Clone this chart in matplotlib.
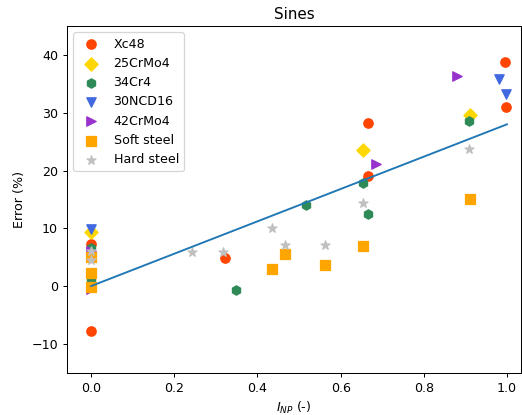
import matplotlib
matplotlib.use('Agg')
import matplotlib.pyplot as plt

# values (x = I_NP, y = error in %)
xc48_x = [0.0, 0.0, 0.323, 0.665, 0.665, 0.995, 0.998]
xc48_y = [7.2, -7.7, 4.9, 19.0, 28.3, 38.8, 31.0]

crmo25_x = [0.0, 0.653, 0.911]
crmo25_y = [9.4, 23.6, 29.7]

cr34_x = [0.0, 0.0, 0.348, 0.516, 0.654, 0.665, 0.909]
cr34_y = [6.5, 1.0, -0.7, 14.0, 17.9, 12.5, 28.5]

ncd30_x = [0.0, 0.980, 0.998]
ncd30_y = [9.8, 35.9, 33.3]

crmo42_x = [0.0, 0.0, 0.0, 0.685, 0.881]
crmo42_y = [6.0, 5.0, -0.5, 21.1, 36.3]

soft_x = [0.0, 0.0, 0.0, 0.435, 0.467, 0.563, 0.654, 0.912]
soft_y = [5.0, 2.2, -0.2, 2.9, 5.6, 3.7, 6.9, 15.0]

hard_x = [0.0, 0.0, 0.242, 0.318, 0.436, 0.465, 0.563, 0.654, 0.909]
hard_y = [6.0, 4.5, 5.9, 5.9, 10.0, 7.1, 7.1, 14.3, 23.8]

fit_x = [0.0, 1.0]
fit_y = [0.0, 28.0]

dpi = 91
fig = plt.figure(figsize=(522 / dpi, 415 / dpi), dpi=dpi)
ax = fig.add_axes([0.128, 0.102, 0.871, 0.835])

s = 55
ax.scatter(xc48_x, xc48_y, s=s, marker='o', color='orangered', label='Xc48')
ax.scatter(crmo25_x, crmo25_y, s=s, marker='D', color='gold', label='25CrMo4')
ax.scatter(cr34_x, cr34_y, s=s, marker='h', color='seagreen', label='34Cr4')
ax.scatter(ncd30_x, ncd30_y, s=s, marker='v', color='royalblue', label='30NCD16')
ax.scatter(crmo42_x, crmo42_y, s=s, marker='>', color='darkorchid', label='42CrMo4')
ax.scatter(soft_x, soft_y, s=s, marker='s', color='orange', label='Soft steel')
ax.scatter(hard_x, hard_y, s=s, marker='*', color='silver', label='Hard steel')
ax.plot(fit_x, fit_y, color='tab:blue', lw=1.5)

ax.set_xlim(-0.0586, 1.035)
ax.set_ylim(-15, 45)
ax.set_title('Sines')
ax.set_xlabel('$I_{NP}$ (-)')
ax.set_ylabel('Error (%)')
ax.legend(loc='upper left')

fig.savefig('out.png', dpi=dpi)
